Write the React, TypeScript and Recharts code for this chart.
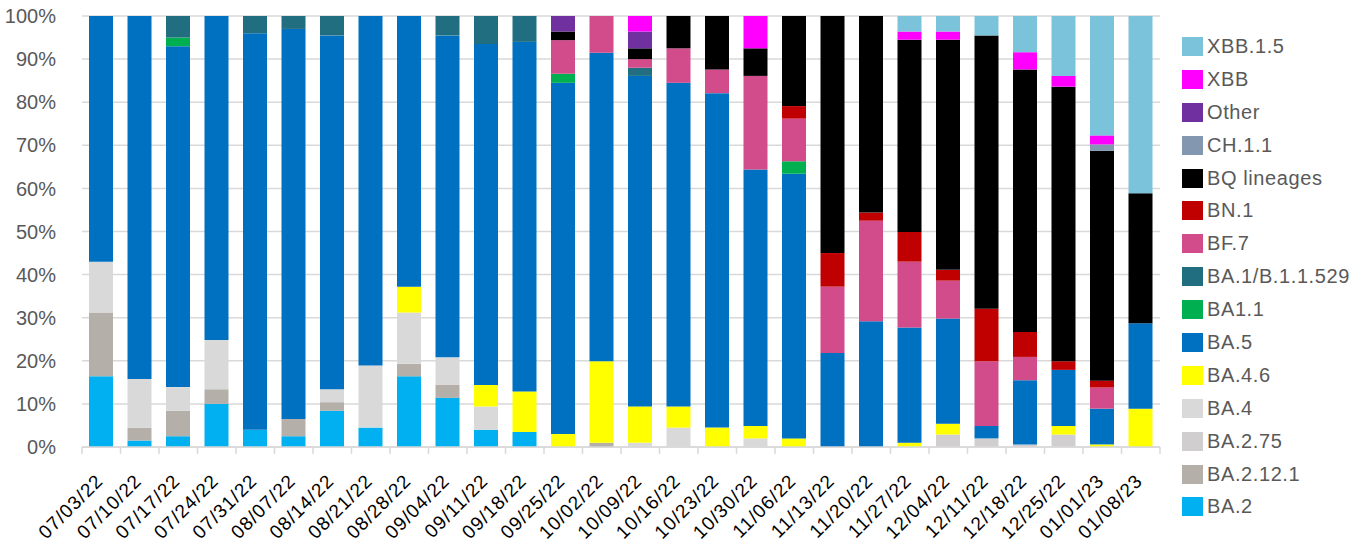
import { Bar, BarChart, CartesianGrid, XAxis, YAxis } from 'recharts'

const weeks = [
  '07/03/22', '07/10/22', '07/17/22', '07/24/22', '07/31/22', '08/07/22', '08/14/22',
  '08/21/22', '08/28/22', '09/04/22', '09/11/22', '09/18/22', '09/25/22', '10/02/22',
  '10/09/22', '10/16/22', '10/23/22', '10/30/22', '11/06/22', '11/13/22', '11/20/22',
  '11/27/22', '12/04/22', '12/11/22', '12/18/22', '12/25/22', '01/01/23', '01/08/23',
]

// shares in percent, per week
const ba2 = [16.4, 1.5, 2.5, 10.0, 4.0, 2.5, 8.4, 4.5, 16.4, 11.4, 4.0, 3.5, 0, 0, 0, 0, 0, 0, 0, 0, 0, 0, 0, 0, 0, 0, 0, 0]
const ba2121 = [14.8, 3.0, 5.9, 3.4, 0, 4.0, 2.0, 0, 2.9, 3.0, 0, 0, 0, 1.0, 0, 0, 0, 0, 0, 0, 0, 0, 0, 0, 0, 0, 0, 0]
const ba275 = [0, 0, 0, 0, 0, 0, 0, 0, 0, 0, 0, 0, 0, 0, 0, 0, 0, 0, 0, 0, 0, 0, 2.9, 2.0, 0.6, 2.9, 0, 0]
const ba4 = [11.8, 11.3, 5.5, 11.4, 0, 0, 3.0, 14.4, 11.9, 6.4, 5.4, 0, 0, 0, 1.0, 4.5, 0, 2.0, 0, 0, 0, 0, 0, 0, 0, 0, 0, 0]
const ba46 = [0, 0, 0, 0, 0, 0, 0, 0, 6.0, 0, 5.0, 9.4, 3.0, 18.9, 8.4, 4.9, 4.5, 2.9, 2.0, 0, 0, 1.0, 2.5, 0, 0, 2.0, 0.6, 8.9]
const ba5 = [57.0, 84.2, 79.1, 75.2, 92.0, 90.5, 82.1, 81.1, 62.8, 74.7, 79.1, 81.1, 81.5, 71.6, 76.7, 75.1, 77.6, 59.5, 61.4, 21.8, 29.2, 26.7, 24.4, 2.9, 14.9, 13.0, 8.3, 19.8]
const ba11 = [0, 0, 2.0, 0, 0, 0, 0, 0, 0, 0, 0, 0, 2.1, 0, 0, 0, 0, 0, 2.9, 0, 0, 0, 0, 0, 0, 0, 0, 0]
const ba1 = [0, 0, 5.0, 0, 4.0, 3.0, 4.5, 0, 0, 4.5, 6.5, 6.0, 0, 0, 1.9, 0, 0, 0, 0, 0, 0, 0, 0, 0, 0, 0, 0, 0]
const bf7 = [0, 0, 0, 0, 0, 0, 0, 0, 0, 0, 0, 0, 7.8, 8.5, 2.0, 8.0, 5.5, 21.7, 9.9, 15.4, 23.3, 15.3, 8.8, 15.0, 5.4, 0, 4.9, 0]
const bn1 = [0, 0, 0, 0, 0, 0, 0, 0, 0, 0, 0, 0, 0, 0, 0, 0, 0, 0, 2.9, 7.8, 1.9, 6.9, 2.5, 12.2, 5.8, 2.0, 1.6, 0]
const bq = [0, 0, 0, 0, 0, 0, 0, 0, 0, 0, 0, 0, 2.0, 0, 2.5, 7.5, 12.4, 6.4, 20.9, 55.0, 45.6, 44.6, 53.4, 63.4, 60.9, 63.7, 53.3, 30.2]
const ch11 = [0, 0, 0, 0, 0, 0, 0, 0, 0, 0, 0, 0, 0, 0, 0, 0, 0, 0, 0, 0, 0, 0, 0, 0, 0, 0, 1.5, 0]
const other = [0, 0, 0, 0, 0, 0, 0, 0, 0, 0, 0, 0, 3.6, 0, 3.9, 0, 0, 0, 0, 0, 0, 0, 0, 0, 0, 0, 0, 0]
const xbb = [0, 0, 0, 0, 0, 0, 0, 0, 0, 0, 0, 0, 0, 0, 3.6, 0, 0, 7.5, 0, 0, 0, 1.9, 1.9, 0, 4.0, 2.5, 2.1, 0]
const xbb15 = [0, 0, 0, 0, 0, 0, 0, 0, 0, 0, 0, 0, 0, 0, 0, 0, 0, 0, 0, 0, 0, 3.6, 3.6, 4.5, 8.4, 13.9, 27.7, 41.1]

const yTicks = [0, 0.1, 0.2, 0.3, 0.4, 0.5, 0.6, 0.7, 0.8, 0.9, 1]

// bottom of the stack first
const series = [
  { key: 'BA.2', values: ba2, color: '#00B0F0' },
  { key: 'BA.2.12.1', values: ba2121, color: '#B5AFA9' },
  { key: 'BA.2.75', values: ba275, color: '#D0CECE' },
  { key: 'BA.4', values: ba4, color: '#D9D9D9' },
  { key: 'BA.4.6', values: ba46, color: '#FFFF00' },
  { key: 'BA.5', values: ba5, color: '#0070C0' },
  { key: 'BA1.1', values: ba11, color: '#00B050' },
  { key: 'BA.1/B.1.1.529', values: ba1, color: '#216E80' },
  { key: 'BF.7', values: bf7, color: '#D24B8A' },
  { key: 'BN.1', values: bn1, color: '#C00000' },
  { key: 'BQ lineages', values: bq, color: '#000000' },
  { key: 'CH.1.1', values: ch11, color: '#8497B0' },
  { key: 'Other', values: other, color: '#7030A0' },
  { key: 'XBB', values: xbb, color: '#FF00FF' },
  { key: 'XBB.1.5', values: xbb15, color: '#7AC3DA' },
]

const data = weeks.map((week, i) => {
  const row: Record<string, string | number> = { week }
  series.forEach((s) => {
    row[s.key] = s.values[i]
  })
  return row
})

const FONT = '"Liberation Sans", Arial, sans-serif'

function WeekTick(props: any) {
  const { x, y, payload, index, visibleTicksCount } = props
  const half = payload?.offset ?? 19.25
  const last = index === (visibleTicksCount ?? weeks.length) - 1
  const ax = x + 3
  const ay = y + 27
  return (
    <g>
      <line x1={x - half} y1={y - 8} x2={x - half} y2={y - 1} stroke="#D9D9D9" strokeWidth={1.5} />
      {last && <line x1={x + half} y1={y - 8} x2={x + half} y2={y - 1} stroke="#D9D9D9" strokeWidth={1.5} />}
      <text
        x={ax}
        y={ay}
        transform={`rotate(-45, ${ax}, ${ay})`}
        textAnchor="end"
        fill="#000"
        fontSize={19}
        letterSpacing={1}
        fontFamily={FONT}
      >
        {payload.value}
      </text>
    </g>
  )
}

function Legend() {
  const items = [...series].reverse()
  return (
    <div style={{ position: 'absolute', left: 1182, top: 30, fontFamily: FONT }}>
      {items.map((s) => (
        <div key={s.key} style={{ display: 'flex', alignItems: 'center', height: 32.9 }}>
          <div style={{ width: 21, height: 19, background: s.color, marginRight: 4 }} />
          <span style={{ fontSize: 20, color: '#595959', letterSpacing: 0.6 }}>{s.key}</span>
        </div>
      ))}
    </div>
  )
}

export default function App() {
  return (
    <div style={{ position: 'absolute', left: 0, top: 0, width: 1367, height: 548, background: '#fff' }}>
      <BarChart
        width={1367}
        height={548}
        data={data}
        stackOffset="expand"
        barSize={24}
        margin={{ top: 16, right: 207, bottom: 0, left: 0 }}
      >
        <CartesianGrid stroke="#D9D9D9" strokeWidth={1.5} vertical={false} />
        <XAxis
          dataKey="week"
          interval={0}
          height={101}
          axisLine={{ stroke: '#D9D9D9', strokeWidth: 1.5 }}
          tickLine={false}
          tick={<WeekTick />}
        />
        <YAxis
          width={82}
          domain={[0, 1]}
          ticks={yTicks}
          axisLine={false}
          tickLine={false}
          tickMargin={20}
          tickFormatter={(v: number) => `${Math.round(v * 100)}%`}
          tick={{ fill: '#595959', fontSize: 20, fontFamily: FONT }}
        />
        {series.map((s) => (
          <Bar key={s.key} dataKey={s.key} stackId="a" fill={s.color} isAnimationActive={false} />
        ))}
      </BarChart>
      <Legend />
    </div>
  )
}
